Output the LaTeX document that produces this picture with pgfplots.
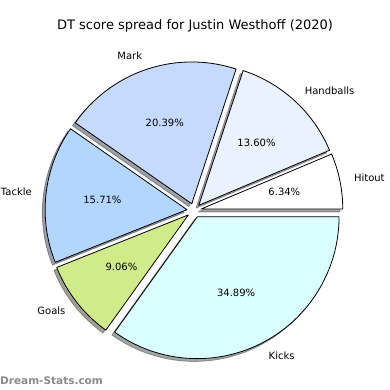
\documentclass[border=0pt]{standalone}
\usepackage{pgfplots}
\pgfplotsset{compat=1.18}
\usepackage{fontspec}
\setmainfont{DejaVu Sans}
\definecolor{cHit}{HTML}{FFFFFF}
\definecolor{cHand}{HTML}{EAF1FF}
\definecolor{cMark}{HTML}{C6D9FF}
\definecolor{cTack}{HTML}{B3D6FF}
\definecolor{cGoal}{HTML}{D0EB8A}
\definecolor{cKick}{HTML}{D9FFFF}
\definecolor{wm}{HTML}{8A8A8A}
% data (percent of DT score)
\def\vHit{6.34}
\def\vHand{13.60}
\def\vMark{20.39}
\def\vTack{15.71}
\def\vGoal{9.06}
\def\vKick{34.89}
% geometry (axis units = px)
\def\cx{194}\def\cy{179.5}\def\r{141.8}\def\ex{7.1}\def\sh{2.8}
\tikzset{lab/.style={font=\fontsize{10}{12}\selectfont, inner sep=0pt}}
\newcommand\shadowslice[3]{%
  \pgfmathsetmacro\mid{(#1+#2)/2}%
  \pgfmathsetmacro\ox{\cx+\ex*cos(\mid)-\sh}%
  \pgfmathsetmacro\oy{\cy+\ex*sin(\mid)-\sh}%
  \edef\tmp{\noexpand\addplot[draw=#3!30!black, fill=#3!30!black, opacity=0.5, line width=0.8pt, line join=round, domain=#1:#2, samples=120, variable=\noexpand\t]
    ({\ox+\r*cos(\noexpand\t)},{\oy+\r*sin(\noexpand\t)}) -- (axis cs:\ox,\oy) -- cycle;}\tmp}
\newcommand\slice[5]{%
  \pgfmathsetmacro\mid{(#1+#2)/2}%
  \pgfmathsetmacro\ox{\cx+\ex*cos(\mid)}%
  \pgfmathsetmacro\oy{\cy+\ex*sin(\mid)}%
  \pgfmathsetmacro\lx{\ox+1.1*\r*cos(\mid)}%
  \pgfmathsetmacro\ly{\oy+1.1*\r*sin(\mid)}%
  \pgfmathsetmacro\px{\ox+0.6*\r*cos(\mid)}%
  \pgfmathsetmacro\py{\oy+0.6*\r*sin(\mid)}%
  \pgfmathsetmacro\side{cos(\mid)>0 ? 1 : 0}%
  \ifdim\side pt>0.5pt \def\anc{west}\else\def\anc{east}\fi
  \edef\tmp{\noexpand\addplot[draw=black, fill=#3, line width=0.8pt, line join=round, domain=#1:#2, samples=120, variable=\noexpand\t]
    ({\ox+\r*cos(\noexpand\t)},{\oy+\r*sin(\noexpand\t)}) -- (axis cs:\ox,\oy) -- cycle;
    \noexpand\node[lab, anchor=\anc] at (axis cs:\lx,\ly) {#4};
    \noexpand\node[lab] at (axis cs:\px,\py) {#5};}\tmp}
\begin{document}
\begin{tikzpicture}
\pgfmathsetmacro\tot{\vHit+\vHand+\vMark+\vTack+\vGoal+\vKick}
\pgfmathsetmacro\aA{0}
\pgfmathsetmacro\aB{\aA+360*\vHit/\tot}
\pgfmathsetmacro\aC{\aB+360*\vHand/\tot}
\pgfmathsetmacro\aD{\aC+360*\vMark/\tot}
\pgfmathsetmacro\aE{\aD+360*\vTack/\tot}
\pgfmathsetmacro\aF{\aE+360*\vGoal/\tot}
\def\aG{360}
\begin{axis}[width=390pt, height=390pt, scale only axis,
  xmin=0, xmax=390, ymin=0, ymax=390,
  axis line style={draw=none}, xtick=\empty, ytick=\empty, clip=false]
\shadowslice{\aA}{\aB}{cHit}
\shadowslice{\aB}{\aC}{cHand}
\shadowslice{\aC}{\aD}{cMark}
\shadowslice{\aD}{\aE}{cTack}
\shadowslice{\aE}{\aF}{cGoal}
\shadowslice{\aF}{\aG}{cKick}
\slice{\aA}{\aB}{cHit}{Hitout}{6.34\%}
\slice{\aB}{\aC}{cHand}{Handballs}{13.60\%}
\slice{\aC}{\aD}{cMark}{Mark}{20.39\%}
\slice{\aD}{\aE}{cTack}{Tackle}{15.71\%}
\slice{\aE}{\aF}{cGoal}{Goals}{9.06\%}
\slice{\aF}{\aG}{cKick}{Kicks}{34.89\%}
\node[font=\fontsize{13}{15}\selectfont, inner sep=0pt] at (axis cs:195,364.5) {DT score spread for Justin Westhoff (2020)};
\node[font=\bfseries\fontsize{10.5}{12}\selectfont, text=wm, anchor=west, inner sep=0pt] at (axis cs:0,9) {Dream-Stats.com};
\end{axis}
\end{tikzpicture}
\end{document}
